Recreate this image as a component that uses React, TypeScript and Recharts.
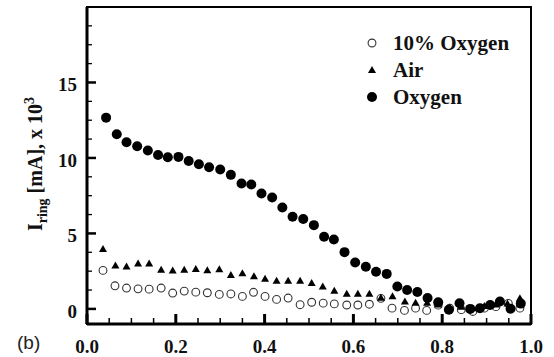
import React from "react";
import { ScatterChart, Scatter, XAxis, YAxis, ReferenceArea, Legend } from "recharts";

// fraction on the x axis, current in mA x 10^3 on the y axis
const oxygenX = [
  0.043, 0.067, 0.089, 0.113, 0.137, 0.16, 0.182, 0.206, 0.229, 0.252, 0.275, 0.3, 0.324, 0.348,
  0.37, 0.393, 0.417, 0.44, 0.463, 0.487, 0.511, 0.534, 0.556, 0.58, 0.604, 0.628, 0.651, 0.675,
  0.699, 0.721, 0.744, 0.767, 0.791, 0.815, 0.839, 0.863, 0.885, 0.908, 0.93, 0.954, 0.977,
];
const oxygenY = [
  12.67, 11.57, 11.04, 10.77, 10.49, 10.2, 10.05, 10.07, 9.8, 9.58, 9.38, 9.23, 8.88, 8.31,
  8.24, 7.65, 7.38, 6.72, 6.1, 5.95, 5.55, 4.78, 4.6, 3.76, 3.08, 2.79, 2.46, 2.32,
  1.48, 1.25, 1.12, 0.72, 0.44, -0.06, 0.37, 0.0, 0.04, 0.26, 0.49, 0.01, 0.35,
];

const airX = [
  0.036, 0.064, 0.089, 0.115, 0.14, 0.167, 0.193, 0.219, 0.245, 0.271, 0.298, 0.324, 0.35,
  0.376, 0.401, 0.427, 0.453, 0.48, 0.506, 0.531, 0.557, 0.585, 0.61, 0.636, 0.662, 0.688,
  0.716, 0.74, 0.766, 0.791, 0.817, 0.843, 0.869, 0.895, 0.921, 0.947, 0.975,
];
const airY = [
  3.97, 2.88, 2.81, 3.01, 3.0, 2.59, 2.55, 2.59, 2.65, 2.56, 2.63, 2.24, 2.37,
  2.17, 2.0, 1.86, 1.86, 1.86, 1.71, 1.48, 1.21, 1.0, 1.0, 1.0, 0.74, 0.84,
  0.49, 0.41, 0.4, 0.3, 0.1, 0.15, 0.05, 0.2, 0.3, 0.35, 0.7,
];

const tenX = [
  0.036, 0.063, 0.089, 0.115, 0.14, 0.167, 0.193, 0.219, 0.245, 0.271, 0.298, 0.324, 0.35,
  0.375, 0.401, 0.427, 0.453, 0.48, 0.506, 0.532, 0.557, 0.585, 0.61, 0.636, 0.662, 0.687,
  0.715, 0.74, 0.765, 0.791, 0.817, 0.843, 0.869, 0.895, 0.921, 0.949, 0.975,
];
const tenY = [
  2.55, 1.53, 1.38, 1.33, 1.31, 1.38, 1.05, 1.18, 1.11, 1.07, 0.96, 0.99, 0.83,
  1.1, 0.83, 0.63, 0.72, 0.28, 0.44, 0.38, 0.33, 0.26, 0.26, 0.31, 0.7, 0.05,
  -0.1, 0.05, -0.1, 0.25, 0.05, -0.05, -0.17, 0.05, 0.15, 0.36, 0.05,
];

const seriesNames = ["10% Oxygen", "Air", "Oxygen"];
const seriesKinds = ["open", "triangle", "filled"];

const xTicks = [
  0, 0.05, 0.1, 0.15, 0.2, 0.25, 0.3, 0.35, 0.4, 0.45, 0.5, 0.55, 0.6, 0.65, 0.7, 0.75, 0.8,
  0.85, 0.9, 0.95, 1.0,
];
const yTicks = [
  0, 1.25, 2.5, 3.75, 5, 6.25, 7.5, 8.75, 10, 11.25, 12.5, 13.75, 15, 16.25, 17.5, 18.75,
];

const SERIF = "'Liberation Serif', 'Times New Roman', serif";

const toPoints = (xs: number[], ys: number[]) => xs.map((x, i) => ({ x, y: ys[i] }));

function Marker({ kind, cx, cy }: { kind: string; cx: number; cy: number }) {
  if (kind === "open") {
    return <circle cx={cx} cy={cy} r={3.9} fill="none" stroke="#333" strokeWidth={1.1} />;
  }
  if (kind === "triangle") {
    return <path d={`M${cx},${cy - 4} L${cx + 4},${cy + 3} L${cx - 4},${cy + 3} Z`} fill="#000" />;
  }
  return <circle cx={cx} cy={cy} r={5} fill="#000" />;
}

const XTick = ({ x, y, payload }: any) => {
  const v = payload.value;
  const major = Math.abs(v * 5 - Math.round(v * 5)) < 1e-6;
  return (
    <g>
      <line x1={x} x2={x} y1={y} y2={y - (major ? 10 : 6)} stroke="#000" strokeWidth={major ? 3 : 1.5} />
      {major && (
        <text x={x} y={y + 29} textAnchor="middle" fontFamily={SERIF} fontWeight="bold" fontSize={19} fill="#111">
          {v.toFixed(1)}
        </text>
      )}
    </g>
  );
};

const YTick = ({ x, y, payload }: any) => {
  const v = payload.value;
  const major = v % 5 === 0;
  return (
    <g>
      <line x1={x} x2={x + (major ? 9 : 5)} y1={y} y2={y} stroke="#000" strokeWidth={major ? 2.5 : 1.3} />
      {major && (
        <text x={x - 10} y={y} dy={9} textAnchor="end" fontFamily={SERIF} fontWeight="bold" fontSize={19} fill="#111">
          {v}
        </text>
      )}
    </g>
  );
};

const YLabel = () => (
  <text
    x={42}
    y={164}
    transform="rotate(-90 42 164)"
    textAnchor="middle"
    fontFamily={SERIF}
    fontWeight="bold"
    fontSize={20}
    fill="#111"
  >
    <tspan>I</tspan>
    <tspan fontSize={14} dy={5}>ring</tspan>
    <tspan dy={-5}> [mA], x 10</tspan>
    <tspan fontSize={14} dy={-8}>3</tspan>
  </text>
);

const PanelLabel = () => (
  <text x={17} y={349} fontFamily="'Liberation Sans', Arial, sans-serif" fontSize={19} fill="#222">
    (b)
  </text>
);

const renderLegend = () => (
  <svg width={200} height={90}>
    {seriesNames.map((name, i) => (
      <g key={name}>
        <Marker kind={seriesKinds[i]} cx={32} cy={23 + i * 27} />
        <text x={53} y={30 + i * 27} fontFamily={SERIF} fontWeight="bold" fontSize={21} fill="#111">
          {name}
        </text>
      </g>
    ))}
  </svg>
);

export default function App() {
  return (
    <div style={{ position: "absolute", left: 0, top: 0, width: 554, height: 357, background: "#fff" }}>
      <ScatterChart width={554} height={357} margin={{ top: 7, right: 23, bottom: 0, left: 0 }}>
        <XAxis
          type="number"
          dataKey="x"
          domain={[0, 1]}
          ticks={xTicks}
          interval={0}
          allowDataOverflow
          height={33}
          tickSize={0}
          tickMargin={0}
          tickLine={false}
          tick={<XTick />}
          axisLine={{ stroke: "#000", strokeWidth: 3 }}
          label={{ content: () => <PanelLabel /> }}
        />
        <YAxis
          type="number"
          dataKey="y"
          domain={[-1, 20]}
          ticks={yTicks}
          interval={0}
          allowDataOverflow
          width={87}
          tickSize={0}
          tickMargin={0}
          tickLine={false}
          tick={<YTick />}
          axisLine={{ stroke: "#000", strokeWidth: 3 }}
          label={{ content: () => <YLabel /> }}
        />
        <ReferenceArea x1={0} x2={1} y1={-1} y2={20} fill="none" stroke="#000" strokeWidth={2} />
        <Legend
          layout="horizontal"
          verticalAlign="middle"
          align="center"
          content={renderLegend}
          wrapperStyle={{ position: "absolute", left: 340, top: 20, width: 200, height: 90 }}
        />
        <Scatter
          name={seriesNames[0]}
          data={toPoints(tenX, tenY)}
          isAnimationActive={false}
          shape={(p: any) => <Marker kind="open" cx={p.cx} cy={p.cy} />}
        />
        <Scatter
          name={seriesNames[1]}
          data={toPoints(airX, airY)}
          isAnimationActive={false}
          shape={(p: any) => <Marker kind="triangle" cx={p.cx} cy={p.cy} />}
        />
        <Scatter
          name={seriesNames[2]}
          data={toPoints(oxygenX, oxygenY)}
          isAnimationActive={false}
          shape={(p: any) => <Marker kind="filled" cx={p.cx} cy={p.cy} />}
        />
      </ScatterChart>
    </div>
  );
}
